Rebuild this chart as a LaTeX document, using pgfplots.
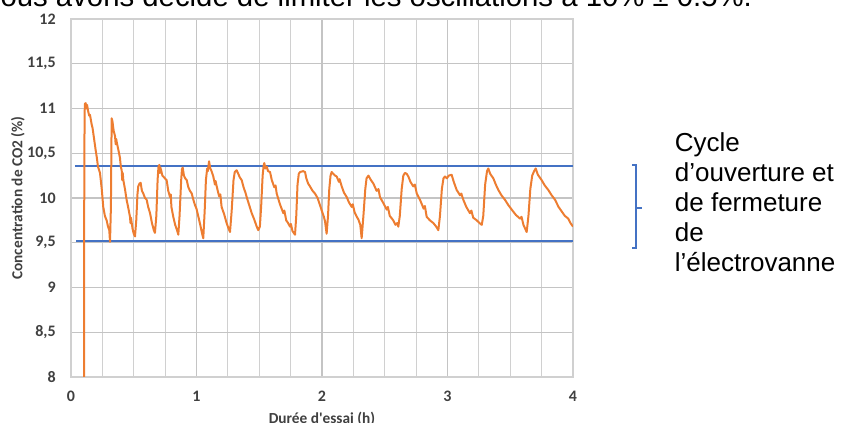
\documentclass[border=0pt]{standalone}
\usepackage{fontspec}
\setmainfont{Liberation Sans}
\newfontfamily\carlito{Carlito}
\usepackage{pgfplots}
\pgfplotsset{compat=1.18}
\definecolor{xlorange}{HTML}{ED7D31}
\definecolor{xlblue}{HTML}{4472C4}
\definecolor{gridc}{HTML}{D0D0D0}
\definecolor{gridmaj}{HTML}{C4C4C4}
\begin{document}
\begin{tikzpicture}
\useasboundingbox (0,0) rectangle (637.5pt,317.25pt);
% cropped sentence at the top
\node[anchor=base west, inner sep=0pt, font=\fontsize{22pt}{26pt}\selectfont] at (-12pt,312pt)
  {nous avons décidé de limiter les oscillations à 10\% ± 0.5\%.};
\begin{axis}[
  at={(53.25pt,34.5pt)}, anchor=south west,
  scale only axis, width=376.5pt, height=268.5pt,
  xmin=0, xmax=4, ymin=8, ymax=12,
  xtick={0,1,2,3,4},
  minor xtick={0.25,0.5,0.75,1.25,1.5,1.75,2.25,2.5,2.75,3.25,3.5,3.75},
  ytick={8,8.5,9,9.5,10,10.5,11,11.5,12},
  yticklabels={8,{8,5},9,{9,5},10,{10,5},11,{11,5},12},
  xticklabels={0,1,2,3,4},
  xmajorgrids, xminorgrids, ymajorgrids,
  major grid style={gridmaj, line width=0.9pt},
  minor grid style={gridc, line width=0.9pt},
  axis line style={gridc, line width=0.9pt},
  tick style={draw=none},
  ticklabel style={font=\carlito\bfseries\fontsize{12pt}{14pt}\selectfont, text=black!75},
  yticklabel style={xshift=-8pt},
  xticklabel style={yshift=-7pt},
  xlabel={Durée d'essai (h)},
  ylabel={Concentration de CO2 (\%)},
  xlabel style={font=\carlito\bfseries\fontsize{11.5pt}{13pt}\selectfont, text=black!75,
    at={(axis description cs:0.5,-0.117)}, anchor=center},
  ylabel style={font=\carlito\bfseries\fontsize{11.5pt}{13pt}\selectfont, text=black!75,
    at={(axis description cs:-0.106,0.5)}, rotate=0, anchor=center},
  clip=true,
]
\addplot[xlblue, line width=1.1pt] coordinates {(0.03,10.355) (4,10.355)};
\addplot[xlblue, line width=1.1pt] coordinates {(0.04,9.52) (4,9.52)};
\addplot[xlorange, line width=1.5pt, line join=round] coordinates {
(0.104,8.0) (0.106,10.5) (0.110,11.05) (0.117,11.06) (0.122,11.0) (0.128,11.04) (0.135,10.98)
(0.145,10.92) (0.151,10.93) (0.165,10.82) (0.172,10.78) (0.178,10.72) (0.19,10.60) (0.198,10.52) (0.205,10.46) (0.215,10.35)
(0.222,10.32) (0.231,10.28) (0.245,10.10) (0.257,9.90) (0.27,9.80) (0.284,9.75) (0.295,9.68)
(0.305,9.64) (0.311,9.51) (0.318,9.9) (0.324,10.89) (0.33,10.86) (0.34,10.75)
(0.351,10.69) (0.356,10.60) (0.36,10.66) (0.365,10.62) (0.377,10.54) (0.39,10.45) (0.397,10.35)
(0.404,10.31) (0.408,10.20) (0.412,10.28) (0.417,10.20) (0.43,10.10) (0.443,9.98) (0.455,9.90)
(0.47,9.79) (0.474,9.72) (0.478,9.78) (0.49,9.66) (0.50,9.60) (0.51,9.57) (0.52,9.75)
(0.53,10.05) (0.536,10.13) (0.545,10.16) (0.555,10.17) (0.565,10.08) (0.576,10.05)
(0.59,10.00) (0.603,9.98) (0.615,9.90) (0.63,9.83) (0.645,9.72) (0.66,9.64)
(0.669,9.61) (0.68,9.8) (0.69,10.2) (0.697,10.35) (0.704,10.37) (0.708,10.28) (0.712,10.34)
(0.72,10.30) (0.728,10.25) (0.736,10.24) (0.748,10.22) (0.762,10.20) (0.775,10.08)
(0.789,10.01) (0.795,10.04) (0.80,9.90) (0.815,9.79) (0.83,9.70) (0.845,9.64) (0.855,9.59)
(0.865,9.8) (0.878,10.2) (0.884,10.32) (0.89,10.34) (0.9,10.25) (0.91,10.22)
(0.922,10.20) (0.935,10.12) (0.948,10.08) (0.962,10.05) (0.975,9.98) (0.988,9.92)
(1.0,9.88) (1.015,9.79) (1.03,9.70) (1.045,9.60) (1.054,9.55) (1.065,9.85)
(1.075,10.20) (1.085,10.33) (1.09,10.30) (1.10,10.41) (1.11,10.33) (1.12,10.30)
(1.134,10.24) (1.147,10.15) (1.152,10.19) (1.161,10.13) (1.18,10.02) (1.19,10.04) (1.2,9.90) (1.22,9.82)
(1.24,9.72) (1.255,9.66) (1.267,9.62) (1.28,9.85) (1.295,10.2) (1.305,10.29)
(1.32,10.31) (1.33,10.28) (1.345,10.23) (1.36,10.20) (1.375,10.12) (1.39,10.06)
(1.4,10.01) (1.42,9.92) (1.44,9.83) (1.46,9.76) (1.48,9.68) (1.492,9.64)
(1.505,9.68) (1.515,9.9) (1.527,10.25) (1.535,10.36) (1.54,10.39) (1.55,10.33)
(1.56,10.35) (1.57,10.30) (1.586,10.29) (1.60,10.20) (1.62,10.12) (1.63,10.14) (1.639,10.05)
(1.665,9.93) (1.692,9.83) (1.70,9.86) (1.715,9.75) (1.73,9.72) (1.745,9.68) (1.752,9.71) (1.765,9.63)
(1.785,9.59) (1.795,9.8) (1.805,10.15) (1.815,10.27) (1.825,10.29) (1.85,10.30)
(1.865,10.29) (1.875,10.22) (1.89,10.16) (1.904,10.13) (1.925,10.08) (1.944,10.05)
(1.965,10.00) (1.984,9.92) (2.0,9.85) (2.015,9.79) (2.024,9.74) (2.037,9.60)
(2.048,9.8) (2.058,10.1) (2.068,10.25) (2.077,10.29) (2.09,10.27) (2.105,10.25)
(2.117,10.24) (2.135,10.18) (2.14,10.21) (2.157,10.13) (2.175,10.06) (2.197,10.01) (2.215,9.95)
(2.237,9.90) (2.245,9.93) (2.26,9.84) (2.277,9.79) (2.29,9.76) (2.305,9.70) (2.316,9.55)
(2.33,9.8) (2.345,10.1) (2.355,10.22) (2.37,10.25) (2.39,10.20) (2.41,10.16)
(2.435,10.08) (2.45,10.10) (2.462,10.01) (2.49,9.94) (2.516,9.87) (2.525,9.90) (2.54,9.80) (2.568,9.75)
(2.585,9.70) (2.6,9.72) (2.608,9.68) (2.62,9.8) (2.635,10.1) (2.648,10.25)
(2.661,10.28) (2.675,10.27) (2.688,10.24) (2.705,10.18) (2.727,10.13) (2.74,10.15) (2.755,10.05)
(2.781,9.98) (2.81,9.88) (2.82,9.91) (2.834,9.79) (2.86,9.75) (2.887,9.72) (2.91,9.68)
(2.927,9.64) (2.94,9.8) (2.955,10.1) (2.968,10.22) (2.98,10.24) (2.995,10.22)
(3.01,10.25) (3.033,10.26) (3.05,10.18) (3.073,10.09) (3.1,10.03) (3.11,10.05) (3.126,9.98)
(3.15,9.90) (3.179,9.83) (3.19,9.86) (3.205,9.78) (3.233,9.75) (3.255,9.72) (3.273,9.70)
(3.285,9.8) (3.3,10.15) (3.315,10.30) (3.325,10.33) (3.34,10.27) (3.365,10.22)
(3.385,10.15) (3.405,10.09) (3.43,10.03) (3.458,9.98) (3.485,9.92) (3.512,9.87)
(3.545,9.81) (3.578,9.77) (3.59,9.79) (3.605,9.70) (3.631,9.62) (3.645,9.80) (3.66,10.1)
(3.675,10.25) (3.69,10.30) (3.703,10.33) (3.72,10.26) (3.75,10.20) (3.775,10.14)
(3.803,10.09) (3.83,10.03) (3.857,9.98) (3.885,9.90) (3.91,9.85) (3.935,9.80)
(3.962,9.77) (3.98,9.72) (4.0,9.68)
};
\end{axis}
% bracket
\draw[xlblue, line width=0.8pt] (474pt,193.5pt) -- (477pt,193.5pt) -- (477pt,131.25pt) -- (474pt,131.25pt);
\draw[xlblue, line width=0.8pt] (477pt,161.25pt) -- (481.5pt,161.25pt);
% annotation
\begin{scope}[every node/.style={anchor=base west, inner sep=0pt, font=\fontsize{19.5pt}{22.5pt}\selectfont}]
\node at (506pt,203.25pt) {Cycle};
\node at (506pt,180.75pt) {d’ouverture et};
\node at (506pt,158.25pt) {de fermeture};
\node at (506pt,135.75pt) {de};
\node at (506pt,113.25pt) {l’électrovanne};
\end{scope}
\end{tikzpicture}
\end{document}
